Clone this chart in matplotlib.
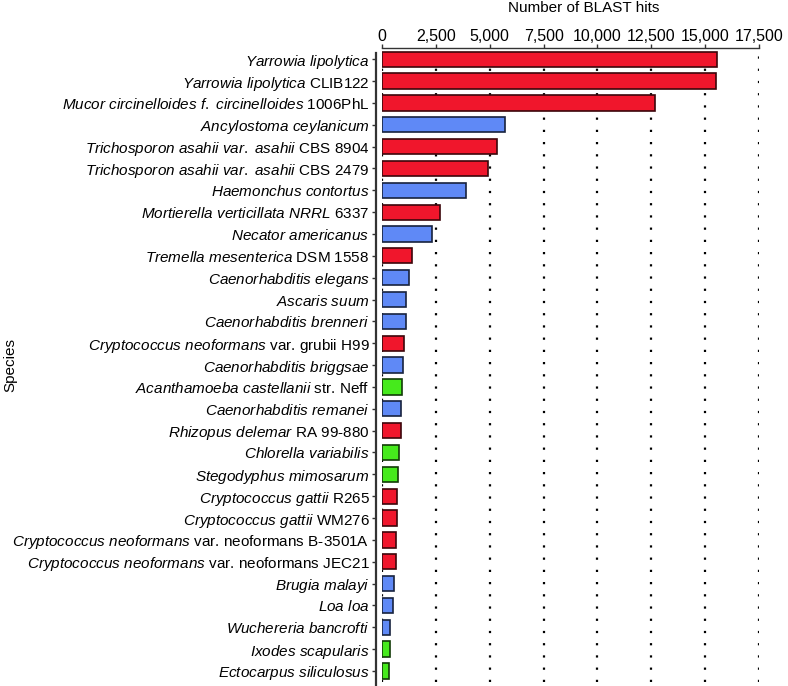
import matplotlib
matplotlib.use("Agg")
import matplotlib.pyplot as plt
import numpy as np
from matplotlib.colors import to_rgb

plt.rcParams['font.family'] = ['Liberation Sans', 'DejaVu Sans']
plt.rcParams['font.size'] = 11
plt.rcParams['mathtext.fontset'] = 'custom'
plt.rcParams['mathtext.rm'] = 'Liberation Sans'
plt.rcParams['mathtext.it'] = 'Liberation Sans:italic'

species_italic = [
    "Yarrowia lipolytica", "Yarrowia lipolytica", "Mucor circinelloides f. circinelloides",
    "Ancylostoma ceylanicum", "Trichosporon asahii var. asahii", "Trichosporon asahii var. asahii",
    "Haemonchus contortus", "Mortierella verticillata NRRL", "Necator americanus",
    "Tremella mesenterica", "Caenorhabditis elegans", "Ascaris suum",
    "Caenorhabditis brenneri", "Cryptococcus neoformans", "Caenorhabditis briggsae",
    "Acanthamoeba castellanii", "Caenorhabditis remanei", "Rhizopus delemar",
    "Chlorella variabilis", "Stegodyphus mimosarum", "Cryptococcus gattii",
    "Cryptococcus gattii", "Cryptococcus neoformans", "Cryptococcus neoformans",
    "Brugia malayi", "Loa loa", "Wuchereria bancrofti",
    "Ixodes scapularis", "Ectocarpus siliculosus",
]
species_rest = [
    "", "CLIB122", "1006PhL",
    "", "CBS 8904", "CBS 2479",
    "", "6337", "",
    "DSM 1558", "", "",
    "", "var. grubii H99", "",
    "str. Neff", "", "RA 99-880",
    "", "", "R265",
    "WM276", "var. neoformans B-3501A", "var. neoformans JEC21",
    "", "", "",
    "", "",
]
blast_hits = [
    15550, 15500, 12650,
    5700, 5320, 4920,
    3900, 2700, 2340,
    1400, 1230, 1110,
    1110, 1040, 990,
    910, 880, 860,
    770, 730, 715,
    715, 650, 650,
    545, 530, 370,
    355, 345,
]
groups = [
    "fungi", "fungi", "fungi",
    "animal", "fungi", "fungi",
    "animal", "fungi", "animal",
    "fungi", "animal", "animal",
    "animal", "fungi", "animal",
    "other", "animal", "fungi",
    "other", "other", "fungi",
    "fungi", "fungi", "fungi",
    "animal", "animal", "animal",
    "other", "other",
]
group_colors = {"fungi": "#F0162C", "animal": "#5F89F6", "other": "#46EA1C"}
x_ticks = [0, 2500, 5000, 7500, 10000, 12500, 15000, 17500]
x_ticklabels = ["0", "2,500", "5,000", "7,500", "10,000", "12,500", "15,000", "17,500"]


def make_label(it, rest):
    s = ""
    if it:
        s = r"$\mathit{" + it.replace(" ", r"\ ") + "}$"
    if rest:
        s = s + " " + rest
    return s


labels = [make_label(a, b) for a, b in zip(species_italic, species_rest)]
n = len(labels)
ypos = np.arange(n)

fig = plt.figure(figsize=(7.88, 6.86), dpi=100)
ax = fig.add_axes([0.4848, 0.006, 0.4785, 0.9236])

face = [group_colors[g] for g in groups]
edge = [tuple(c * 0.25 for c in to_rgb(group_colors[g])) for g in groups]
ax.barh(ypos, blast_hits, height=0.7, color=face, edgecolor=edge, linewidth=1.2, zorder=3)

ax.set_ylim(n - 0.5, -0.5)
ax.set_xlim(0, 17500)
ax.set_yticks(ypos)
ax.set_yticklabels(labels)
ax.set_xticks(x_ticks)
ax.set_xticklabels(x_ticklabels)
ax.xaxis.tick_top()
ax.xaxis.set_label_position("top")
ax.set_xlabel("Number of BLAST hits", fontsize=11)
ax.set_ylabel("Species", fontsize=11)

ax_x0, ax_w = 0.4848 * 788, 0.4785 * 788
ax_y0, ax_h = 0.006 * 686, 0.9236 * 686
ax.xaxis.set_label_coords((584 - ax_x0) / ax_w, (686 - 8 - ax_y0) / ax_h)
ax.yaxis.set_label_coords((10 - ax_x0) / ax_w, 0.5)
ax.xaxis.label.set_va("center")
ax.yaxis.label.set_va("center")

for xv in x_ticks:
    ax.axvline(xv, color="black", linestyle=(0, (1, 4.5)), linewidth=1.6, zorder=1)

ax.spines['right'].set_visible(False)
ax.spines['bottom'].set_visible(False)
ax.spines['top'].set_color("#333333")
ax.spines['top'].set_linewidth(1.0)
ax.spines['left'].set_color("#333333")
ax.spines['left'].set_linewidth(1.6)
ax.spines['left'].set_position(('outward', 4))
ax.spines['left'].set_bounds(n - 0.3, -0.3)
ax.tick_params(axis='x', direction='out', length=3, width=1, pad=0, color="#333333", labelsize=11.5)
ax.tick_params(axis='y', direction='out', length=3, width=1, pad=2, color="#333333", labelsize=11)

fig.savefig("out.png", dpi=100)
